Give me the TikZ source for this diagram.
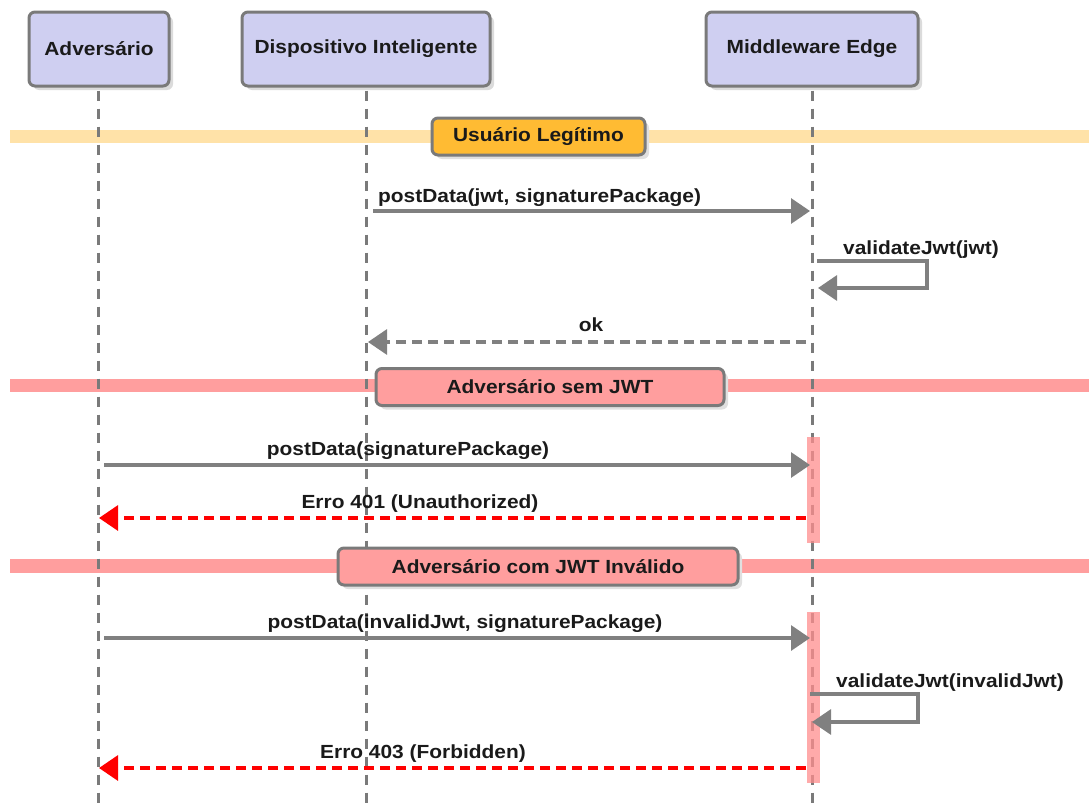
\documentclass[tikz,border=0pt]{standalone}
\usepackage{fontspec}
\setmainfont{Liberation Sans}[FakeStretch=1.1]
\usetikzlibrary{arrows.meta,shadows}

\definecolor{actorfill}{HTML}{CFCFF1}
\definecolor{boxline}{HTML}{7A7A7A}
\definecolor{wire}{HTML}{808080}
\definecolor{okband}{HTML}{FFE2A8}
\definecolor{oktag}{HTML}{FFBB33}
\definecolor{badband}{HTML}{FF9E9E}
\definecolor{errred}{HTML}{FF0000}
\definecolor{ink}{HTML}{1A1A1A}

\tikzset{
  lbl/.style={font=\fontsize{19}{22}\selectfont\bfseries, text=ink, inner sep=0pt},
  actorbox/.style={draw=boxline, line width=3pt, rounded corners=6pt, fill=actorfill,
    minimum height=74pt, lbl,
    drop shadow={shadow xshift=4pt, shadow yshift=-4pt, fill=black!14, opacity=1}},
  fragbox/.style={draw=boxline, line width=3pt, rounded corners=6pt,
    minimum height=37pt, lbl,
    drop shadow={shadow xshift=4pt, shadow yshift=-4pt, fill=black!12, opacity=1}},
  lifeline/.style={draw=boxline, line width=3pt, dash pattern=on 10pt off 8pt},
  actbar/.style={fill=badband!90!red, fill opacity=0.75},
  msg/.style={draw=wire, line width=3.2pt, -{Triangle[length=19pt,width=25pt]}},
  reply/.style={draw=wire, line width=3.2pt, dash pattern=on 10pt off 6pt,
    -{Triangle[length=19pt,width=25pt]}},
  errreply/.style={draw=errred, line width=3.2pt, dash pattern=on 10pt off 6pt,
    -{Triangle[length=19pt,width=25pt]}},
}

\begin{document}
\begin{tikzpicture}[x=1pt, y=-1pt]
\useasboundingbox (0,0) rectangle (1089,803);

% participants
\node[actorbox, minimum width=140pt] (adv) at (99,49) {Adversário};
\node[actorbox, minimum width=248pt] (dev) at (366,49) {Dispositivo Inteligente};
\node[actorbox, minimum width=212pt] (mid) at (812,49) {Middleware Edge};

% lifeline ends
\coordinate (advEnd) at (98,803);
\coordinate (devEnd) at (366,803);
\coordinate (midEnd) at (812,803);

% scenario bands
\fill[okband]  (10,130) rectangle (1089,143);
\fill[badband] (10,379) rectangle (1089,392);
\fill[badband] (10,559) rectangle (1089,573);

% lifelines
\draw[lifeline] (adv.south -| advEnd) ++(0,3) -- (advEnd);
\draw[lifeline] (dev.south -| devEnd) ++(0,3) -- (devEnd);
\draw[lifeline] (mid.south -| midEnd) ++(0,3) -- (midEnd);

% activation bars on the middleware
\fill[actbar] (807,437) rectangle (820,543);
\fill[actbar] (807,612) rectangle (820,783);

% scenario tags
\node[fragbox, fill=oktag, minimum width=213pt] (tagOk) at (538.5,136.5) {Usuário Legítimo};
\node[fragbox, fill=badband, minimum width=348pt] (tagNoJwt) at (550,387) {Adversário sem JWT};
\node[fragbox, fill=badband, minimum width=400pt] (tagBadJwt) at (538,566.5) {Adversário com JWT Inválido};

% legitimate user
\coordinate (m1a) at (373,211);  \coordinate (m1b) at (810,211);
\draw[msg] (m1a) -- (m1b);
\node[lbl, anchor=base west] (m1t) at (378,202) {postData(jwt, signaturePackage)};

\coordinate (s1a) at (817,261); \coordinate (s1b) at (927,261);
\coordinate (s1c) at (927,288); \coordinate (s1d) at (818,288);
\draw[msg] (s1a) -- (s1b) -- (s1c) -- (s1d);
\node[lbl, anchor=base west] (s1t) at (843,254) {validateJwt(jwt)};

\coordinate (r1a) at (806,342); \coordinate (r1b) at (368,342);
\draw[reply] (r1a) -- (r1b);
\node[lbl, anchor=base] (r1t) at (591,331) {ok};

% adversary without JWT
\coordinate (m2a) at (104,465); \coordinate (m2b) at (810,465);
\draw[msg] (m2a) -- (m2b);
\node[lbl, anchor=base] (m2t) at (408,455) {postData(signaturePackage)};

\coordinate (e1a) at (806,518); \coordinate (e1b) at (99,518);
\draw[errreply] (e1a) -- (e1b);
\node[lbl, anchor=base] (e1t) at (420,508) {Erro 401 (Unauthorized)};

% adversary with invalid JWT
\coordinate (m3a) at (104,638); \coordinate (m3b) at (810,638);
\draw[msg] (m3a) -- (m3b);
\node[lbl, anchor=base] (m3t) at (465,628) {postData(invalidJwt, signaturePackage)};

\coordinate (s2a) at (810,694); \coordinate (s2b) at (918,694);
\coordinate (s2c) at (918,722); \coordinate (s2d) at (812,722);
\draw[msg] (s2a) -- (s2b) -- (s2c) -- (s2d);
\node[lbl, anchor=base west] (s2t) at (836,687) {validateJwt(invalidJwt)};

\coordinate (e2a) at (806,768); \coordinate (e2b) at (99,768);
\draw[errreply] (e2a) -- (e2b);
\node[lbl, anchor=base] (e2t) at (423,758) {Erro 403 (Forbidden)};
\end{tikzpicture}
\end{document}
